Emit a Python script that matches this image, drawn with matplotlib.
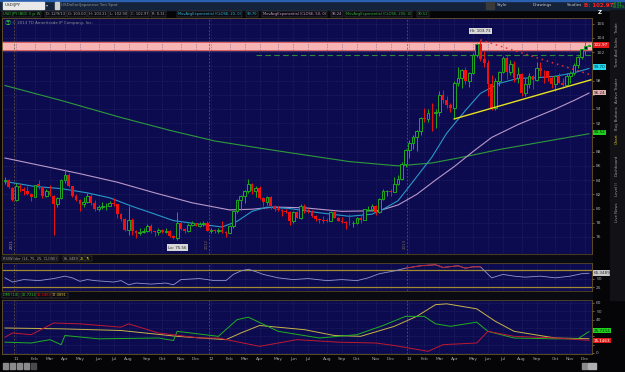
import matplotlib
matplotlib.use('Agg')
import matplotlib.pyplot as plt
from matplotlib.patches import Rectangle
import numpy as np
import pandas as pd

W, H = 625, 372

# weekly USD/JPY candles, Dec 13 2010 .. Dec 9 2013
opens = [83.9, 84.0, 82.9, 81.2, 83.2, 82.8, 82.5, 82.1, 81.6, 83.4,
         83.0, 81.8, 82.4, 81.8, 80.6, 81.5, 84.0, 84.7, 83.1, 81.8,
         81.2, 80.6, 80.9, 81.7, 80.8, 80.0, 80.2, 80.3, 80.4, 80.8,
         80.6, 79.2, 78.5, 77.0, 78.4, 76.8, 76.6, 76.7, 76.8, 77.6,
         76.8, 76.7, 77.0, 76.7, 76.9, 76.2, 75.8, 78.0, 77.1, 76.9,
         77.7, 77.9, 77.6, 77.8, 78.0, 76.9, 77.0, 76.8, 77.0, 76.7,
         76.6, 77.5, 79.6, 81.2, 81.8, 82.4, 83.4, 82.4, 82.9, 81.5,
         80.9, 81.6, 80.3, 79.9, 79.8, 79.6, 79.5, 78.3, 79.5, 78.7,
         80.4, 79.8, 79.7, 78.9, 78.5, 78.4, 78.4, 78.3, 79.5, 78.7,
         78.3, 78.1, 78.0, 77.9, 77.9, 78.7, 78.4, 79.9, 79.9, 80.4,
         79.5, 81.3, 82.4, 82.5, 82.3, 83.5, 84.2, 86.2, 88.2, 89.2,
         90.1, 90.9, 92.7, 92.6, 93.5, 93.4, 93.6, 96.0, 95.3, 94.5,
         94.2, 97.6, 98.4, 99.5, 98.0, 99.0, 101.6, 103.2, 101.0, 100.5,
         97.5, 94.1, 97.9, 99.2, 101.2, 99.2, 100.3, 98.3, 98.9, 96.2,
         97.5, 98.7, 98.1, 99.7, 99.4, 99.3, 98.3, 97.5, 98.6, 97.7,
         97.4, 98.7, 99.1, 100.2, 101.3, 102.4, 102.93]
highs = [84.5, 84.1, 83.0, 83.6, 83.5, 83.0, 83.2, 82.2, 83.3, 84.0,
         83.0, 82.8, 83.3, 81.9, 81.6, 84.2, 85.5, 85.0, 83.2, 82.0,
         81.3, 81.6, 82.2, 82.2, 81.2, 80.5, 80.9, 80.8, 81.0, 81.5,
         80.7, 79.4, 78.6, 80.3, 78.6, 77.0, 77.3, 77.2, 77.8, 77.8,
         76.9, 77.2, 77.1, 77.3, 77.0, 76.3, 79.5, 78.2, 77.2, 78.0,
         78.2, 78.0, 78.1, 78.2, 78.2, 77.2, 77.1, 77.3, 78.3, 76.8,
         77.7, 79.8, 81.3, 81.9, 82.6, 84.2, 83.6, 83.2, 83.2, 81.6,
         81.8, 81.8, 80.5, 80.3, 80.0, 79.9, 79.7, 79.7, 79.6, 80.6,
         80.6, 80.1, 79.8, 79.1, 78.7, 78.9, 78.6, 79.6, 79.6, 78.8,
         78.8, 78.2, 79.2, 78.2, 78.8, 78.9, 80.0, 80.4, 80.7, 80.5,
         81.5, 82.8, 82.6, 82.8, 84.4, 84.7, 86.6, 88.4, 89.6, 90.3,
         91.0, 92.9, 94.1, 94.0, 94.8, 94.0, 96.6, 96.7, 95.8, 94.9,
         97.9, 99.9, 99.6, 99.9, 99.2, 101.9, 103.3, 103.73, 102.1, 100.9,
         98.8, 98.3, 99.4, 101.5, 101.5, 100.9, 100.8, 99.9, 99.1, 98.4,
         99.1, 98.8, 100.6, 100.6, 99.5, 99.4, 98.6, 98.7, 99.0, 98.4,
         99.0, 99.3, 100.4, 101.4, 102.5, 103.4, 103.21]
lows = [83.4, 82.9, 81.1, 81.1, 82.3, 81.9, 81.9, 81.0, 81.6, 82.8,
        81.5, 81.6, 81.7, 76.3, 80.2, 81.4, 83.6, 83.0, 81.6, 81.1,
        79.6, 80.2, 80.8, 80.5, 79.7, 79.7, 80.0, 79.8, 80.3, 80.4,
        78.6, 78.2, 76.8, 76.3, 76.3, 75.9, 76.3, 76.5, 76.7, 76.6,
        76.1, 76.3, 76.5, 76.6, 76.0, 75.7, 75.56, 77.0, 76.6, 76.7,
        77.5, 77.5, 77.4, 77.6, 76.8, 76.6, 76.6, 76.6, 76.6, 76.0,
        76.5, 77.3, 79.4, 79.8, 80.8, 82.2, 82.0, 81.6, 81.3, 80.3,
        80.5, 80.0, 79.7, 79.6, 79.0, 79.3, 77.7, 78.0, 78.6, 78.5,
        79.3, 79.4, 78.8, 78.3, 77.9, 78.0, 78.1, 78.2, 78.6, 78.2,
        78.0, 77.1, 77.7, 77.4, 77.8, 78.0, 78.4, 79.7, 79.6, 79.1,
        79.4, 81.2, 81.7, 81.7, 82.3, 83.3, 84.0, 85.8, 87.1, 88.4,
        88.1, 90.4, 92.2, 92.1, 90.9, 91.3, 93.0, 94.9, 94.2, 93.6,
        92.6, 97.2, 96.9, 97.5, 97.1, 98.9, 101.3, 100.7, 99.9, 95.8,
        93.8, 93.9, 97.2, 99.1, 98.2, 98.8, 97.8, 97.6, 95.8, 95.8,
        97.0, 96.8, 98.0, 98.7, 97.7, 97.9, 96.9, 96.6, 97.6, 96.9,
        97.2, 97.6, 98.8, 99.7, 101.0, 101.6, 102.90]
closes = [84.0, 83.0, 81.2, 83.2, 82.9, 82.5, 82.1, 81.6, 83.3, 83.1,
          81.7, 82.4, 81.9, 80.6, 81.5, 84.0, 84.7, 83.1, 81.8, 81.2,
          80.6, 80.9, 81.7, 80.8, 80.0, 80.2, 80.3, 80.4, 80.8, 80.6,
          79.2, 78.5, 77.0, 78.4, 76.8, 76.6, 76.7, 76.8, 77.6, 76.8,
          76.7, 77.0, 76.7, 76.9, 76.2, 75.8, 78.0, 77.1, 76.9, 77.7,
          77.9, 77.6, 77.8, 78.0, 76.9, 77.0, 76.8, 77.0, 76.7, 76.6,
          77.5, 79.6, 81.2, 81.8, 82.4, 83.4, 82.4, 82.9, 81.5, 80.9,
          81.6, 80.3, 79.9, 79.8, 79.6, 79.5, 78.3, 79.5, 78.7, 80.4,
          79.8, 79.7, 78.9, 78.5, 78.4, 78.3, 78.3, 79.5, 78.7, 78.3,
          78.1, 78.0, 77.9, 77.95, 78.7, 78.4, 79.9, 79.9, 80.4, 79.5,
          81.3, 82.4, 82.5, 82.3, 83.5, 84.2, 86.2, 88.2, 89.2, 90.1,
          90.9, 92.7, 92.6, 93.5, 93.4, 93.6, 96.0, 95.3, 94.5, 94.2,
          97.6, 98.4, 99.5, 98.0, 99.0, 101.6, 103.2, 101.0, 100.5, 97.5,
          94.1, 97.9, 99.2, 101.2, 99.2, 100.3, 98.3, 98.9, 96.2, 97.5,
          98.7, 98.1, 99.7, 99.4, 99.3, 98.3, 97.5, 98.6, 97.7, 97.4,
          98.7, 99.1, 100.2, 101.3, 102.4, 102.9, 102.97]

# moving averages (week index, value)
ema20_idx = [0, 8, 15, 22, 28, 34, 39, 45, 52, 58, 62, 66, 70, 76, 84, 92, 98, 101,
             105, 109, 114, 118, 123, 127, 132, 137, 142, 147, 152, 156]
ema20_val = [83.8, 83.1, 82.8, 82.2, 81.5, 80.3, 79.4, 78.3, 77.8, 77.4, 78.2, 79.6,
             80.2, 80.0, 79.4, 78.9, 79.2, 79.9, 81.1, 83.8, 87.2, 90.6, 93.8, 96.2,
             97.6, 98.3, 98.4, 98.6, 99.1, 99.7]
ema50_idx = [0, 10, 20, 30, 40, 50, 60, 66, 72, 80, 90, 100, 105, 110, 115, 120,
             125, 130, 137, 142, 147, 152, 156]
ema50_val = [87.1, 86.0, 84.9, 83.7, 82.2, 80.8, 79.8, 79.9, 80.2, 80.1, 79.6, 79.7,
             80.5, 82.0, 84.0, 85.9, 88.0, 90.0, 91.8, 92.9, 94.0, 95.2, 96.24]
ema200_idx = [0, 15, 31, 44, 56, 68, 78, 92, 105, 114, 123, 132, 145, 156]
ema200_val = [97.3, 95.2, 92.8, 91.0, 89.5, 88.5, 87.7, 86.6, 86.0, 86.4, 87.3, 88.3,
              89.5, 90.52]

# drawings
support_idx = [120, 156.5]
support_val = [92.6, 98.1]
resist_idx = [127, 156.5]
resist_val = [103.73, 98.8]
zone_lo, zone_hi = 102.3, 103.4
level_idx = [67, 156.8]
level_val = 101.6

# RSI Wilder (14)
rsi_idx = [0, 2, 5, 9, 13, 16, 18, 20, 22, 24, 29, 31, 33, 35, 39, 43, 45, 47, 52, 56,
           59, 61, 63, 65, 67, 69, 73, 77, 81, 86, 90, 94, 97, 100, 104, 107, 111, 115,
           117, 121, 123, 125, 127, 130, 133, 136, 139, 143, 147, 151, 154, 156]
rsi_val = [52, 40, 47, 44, 50, 57, 52, 42, 47, 44, 40, 44, 32, 37, 34, 37, 32, 47, 50, 44,
           44, 62, 72, 77, 70, 62, 52, 47, 50, 44, 47, 44, 52, 64, 72, 80, 87, 90, 82, 87,
           80, 84, 84, 52, 62, 57, 54, 57, 52, 57, 64, 65.35]

# DMI (14)
adx_idx = [0, 15, 31, 46, 59, 63, 68, 80, 88, 95, 104, 110, 115, 118, 126, 131, 136, 147, 156]
adx_val = [30, 29, 27, 20, 16, 24, 33, 28, 21, 20, 32, 44, 58, 59, 53, 38, 26, 18, 17.09]
dip_idx = [0, 7, 12, 15, 16, 25, 41, 45, 46, 57, 62, 65, 73, 84, 94, 101, 107, 112, 115,
           119, 126, 129, 136, 147, 153, 156]
dip_val = [13, 12, 16, 10, 21, 17, 18, 15, 26, 20, 40, 43, 26, 18, 22, 33, 44, 44, 35,
           32, 37, 26, 18, 17, 17, 25.72]
dim_idx = [0, 2, 7, 13, 20, 31, 33, 41, 52, 57, 68, 78, 89, 99, 104, 113, 117, 126, 129,
           136, 147, 156]
dim_val = [19, 24, 22, 36, 35, 31, 35, 24, 18, 18, 8, 16, 13, 12, 9, 2, 10, 12, 26, 20,
           18, 15.15]

BG = '#0c0b50'
GRID = '#3a3a78'
FRAME = '#6a5626'
GREEN = '#1ea81e'
RED = '#f01010'
TXT = '#a8a8a8'

o, h, l, c = map(np.array, (opens, highs, lows, closes))
n = len(c)
idx = np.arange(n)
weeks = pd.date_range('2010-12-13', periods=n, freq='W-MON')
month_pos = [i for i in range(1, n) if weeks[i].month != weeks[i - 1].month]
month_lab = [weeks[i].strftime('%y') if weeks[i].month == 1 else weeks[i].strftime('%b')
             for i in month_pos]
year_pos = [i for i in month_pos if weeks[i].month == 1]
XL = (-0.8, 156.8)


def box(x0, y0, x1, y1):
    return [x0 / W, 1 - y1 / H, (x1 - x0) / W, (y1 - y0) / H]


def ftext(x, y, s, **kw):
    kw.setdefault('fontsize', 3.2)
    kw.setdefault('va', 'center')
    fig.text(x / W, 1 - y / H, s, **kw)


def frect(x0, y0, x1, y1, **kw):
    fig.patches.append(Rectangle((x0 / W, 1 - y1 / H), (x1 - x0) / W, (y1 - y0) / H,
                                 transform=fig.transFigure, **kw))


def style(ax, ylim, yt, hide=()):
    ax.set_facecolor(BG)
    ax.set_xlim(*XL)
    ax.set_ylim(*ylim)
    ax.yaxis.tick_right()
    ax.set_yticks(yt)
    ax.set_yticklabels(['' if v in hide else str(v) for v in yt])
    ax.set_xticks(month_pos)
    ax.tick_params(axis='y', colors=TXT, labelsize=3.2, length=1.5, pad=1.5, width=0.4)
    ax.tick_params(axis='x', length=0, labelbottom=False)
    for s in ax.spines.values():
        s.set_color(FRAME)
        s.set_linewidth(0.6)
    ax.grid(True, color=GRID, lw=0.4, ls=(0, (1, 2)))
    for yp in year_pos:
        ax.axvline(yp - 0.5, color='#6a5a40', lw=0.5, ls=(0, (3, 2)))


fig = plt.figure(figsize=(W / 100, H / 100), dpi=100, facecolor='#050508')

# title bar
frect(0, 0, W, 10, color='#15233a')
frect(0, 0, W, 1.2, color='#2a60b0')
frect(3, 2, 44, 8.5, color='#e8e8e8')
ftext(5, 5.3, 'USD/JPY', color='#202020', fontsize=3)
ftext(46, 5.3, '\u25be', color='#c0c0c0', fontsize=3)
frect(55, 2, 59, 8.5, color='#d0d0d0')
ftext(61, 5.3, 'USDollar/Japanese Yen Spot', color='#909090', fontsize=3)
for xx, s in [(497, 'Style'), (533, 'Drawings'), (567, 'Studies')]:
    ftext(xx, 5.3, s, color='#c8c8c8', fontsize=3)
frect(486, 2, 494, 8.5, color='#3a3a3a')
ftext(584, 5.3, 'B: 102.97', color='#ff2020', fontsize=4, fontweight='bold')
ftext(612, 3.7, '+0.07', color='#20d020', fontsize=2.4)
ftext(612, 7.0, '+0.07%', color='#20d020', fontsize=2.4)

# study header row
hdr = [(3, 'USD JPY (BID) 3 yr W', '#30c030'), (46, 'D: 12/9/13', TXT),
       (68, 'O: 103.00', TXT), (89, 'H: 103.21', TXT), (110, 'L: 102.90', TXT),
       (131, 'C: 102.97', TXT), (152, 'R: 0.31', TXT),
       (178, 'MovAvgExponential (CLOSE, 20, 0)', '#30b8d8'), (247, '99.70', '#30b8d8'),
       (263, 'MovAvgExponential (CLOSE, 50, 0)', '#c8a0c8'), (332, '96.24', '#c8a0c8'),
       (346, 'MovAvgExponential (CLOSE, 200, 0)', '#30b030'), (418, '90.52', '#30b030')]
for xx, s, col in hdr:
    ftext(xx, 14.2, s, color=col, fontsize=2.6,
          bbox=dict(fc='#0a0a12', ec='#505050', lw=0.3, pad=0.7))

# right side tabs
frect(610, 10, W, 300, color='#121216')
tabs = [(28, 'Trade'), (52, 'Time And Sales'), (90, 'Active Trader'), (118, 'Buy Buttons'),
        (139, 'Chart'), (165, 'Dashboard'), (189, 'Level II'), (212, 'Live News')]
for yy, s in tabs:
    ftext(617, yy, s, color='#e0c020' if s == 'Chart' else '#a0a0a0', fontsize=2.8,
          rotation=90, ha='center')

# ---- price panel
ax = fig.add_axes(box(2, 18, 592, 254))
style(ax, (73.6, 106.8), list(range(76, 107, 2)), hide=(90, 96, 100))
ax.axhspan(zone_lo, zone_hi, color='#f6b4b4', zorder=1.5)
ax.axhline(zone_lo, color='#d04040', lw=0.5, zorder=1.6)
ax.axhline(zone_hi, color='#d04040', lw=0.5, zorder=1.6)
ax.hlines(level_val, *level_idx, color='#2a8a3a', lw=0.8, ls=(0, (5, 3)), zorder=1.7)
ax.plot(ema200_idx, ema200_val, color='#2e9a3a', lw=0.8, zorder=2)
ax.plot(ema50_idx, ema50_val, color='#b898c8', lw=0.8, zorder=2)
ax.plot(ema20_idx, ema20_val, color='#2898c8', lw=0.8, zorder=2)
up = c >= o
col = np.where(up, GREEN, RED)
ax.vlines(idx, l, h, colors=col, lw=0.7, zorder=3)
ax.bar(idx[up], np.maximum(c - o, 0.08)[up], bottom=o[up], width=0.72,
       facecolor=BG, edgecolor=GREEN, lw=0.7, zorder=4)
ax.bar(idx[~up], (o - c)[~up], bottom=c[~up], width=0.72, color=RED, lw=0, zorder=4)
ax.plot(support_idx, support_val, color='#e8e020', lw=1.0, zorder=5)
ax.plot(resist_idx, resist_val, color='#e83030', lw=1.1, ls=(0, (1, 2.5)), zorder=5)
ax.text(127, 105.0, 'Hi: 103.73', fontsize=2.9, color='#202020', ha='center', va='center',
        bbox=dict(fc='#d8d8d8', ec='none', pad=0.8), zorder=6)
ax.text(46, 74.5, 'Lo: 75.56', fontsize=2.9, color='#202020', ha='center', va='center',
        bbox=dict(fc='#d8d8d8', ec='none', pad=0.8), zorder=6)
for yp in year_pos + [3]:
    ax.text(yp - 1.2, 74.3, str(weeks[yp].year), rotation=90, fontsize=2.9,
            color='#7a6a50', ha='center', va='bottom')
ax.text(0.004, 0.978, '\u24c9', transform=ax.transAxes, color='#30d030', fontsize=4.5,
        va='center', family=['Noto Sans CJK JP', 'DejaVu Sans'])
ax.text(0.017, 0.978, '\u00a9 2013 TD Ameritrade IP Company, Inc.', transform=ax.transAxes,
        color='#909090', fontsize=2.9, va='center')
ftext(598, 13, 'Z', color='white', fontsize=4, fontweight='bold')
tags = [(c[-1], '102.97', '#e01818', 'white'), (99.95, '99.70', '#20d8f0', '#003040'),
        (96.3, '96.24', '#e0b0b0', '#402020'), (90.7, '90.52', '#20d020', '#003000')]
for yv, s, fc, tc in tags:
    ax.text(1.003, (yv - 73.6) / (106.8 - 73.6), s, transform=ax.transAxes, fontsize=3,
            color=tc, va='center', ha='left', bbox=dict(fc=fc, ec='none', pad=0.6))

# ---- RSI panel
frect(2, 255, 592, 262, color='#0a0a12')
rh = [(3, 'RSIWilder (14, 75, 25, CLOSE)', TXT), (64, '65.3489', TXT),
      (80, '25', '#e0e020'), (86, '75', '#e0e020')]
for xx, s, cc in rh:
    ftext(xx, 258.5, s, color=cc, fontsize=2.6,
          bbox=dict(fc='#0a0a12', ec='#505050', lw=0.3, pad=0.7))
ar = fig.add_axes(box(2, 263, 592, 291))
style(ar, (14, 95), [25, 50, 75], hide=(75,))
ar.axhline(75, color='#a08a30', lw=0.9)
ar.axhline(25, color='#a08a30', lw=0.9)
rv = np.array(rsi_val, dtype=float)
ar.plot(rsi_idx, rv, color='#9098c8', lw=0.6)
ar.plot(rsi_idx, np.where(rv >= 75, rv, np.nan), color='#c02020', lw=0.7)
ar.text(1.003, (65.35 - 14) / 81, '65.3489', transform=ar.transAxes, fontsize=3,
        color='#303030', va='center', bbox=dict(fc='#c8c8c8', ec='none', pad=0.6))

# ---- DMI panel
frect(2, 292, 592, 299, color='#0a0a12')
dh = [(3, 'DMI (14)', '#30c030'), (22, '25.7214', '#30c030'), (37, '15.1463', RED),
      (52, '17.0891', '#d8c040')]
for xx, s, cc in dh:
    ftext(xx, 295.5, s, color=cc, fontsize=2.6,
          bbox=dict(fc='#0a0a12', ec='#505050', lw=0.3, pad=0.7))
ad = fig.add_axes(box(2, 300, 592, 354))
style(ad, (-1.2, 63.6), list(range(0, 61, 10)), hide=(10, 20, 30))
ad.plot(adx_idx, adx_val, color='#c8b446', lw=0.7)
ad.plot(dip_idx, dip_val, color='#20b020', lw=0.7)
ad.plot(dim_idx, dim_val, color='#c01830', lw=0.7)
for yv, s, fc, tc in [(27.0, '25.7214', '#20d020', '#003000'),
                      (15.0, '15.1463', '#e01818', 'white')]:
    ad.text(1.003, (yv + 1.2) / 64.8, s, transform=ad.transAxes, fontsize=3, color=tc,
            va='center', bbox=dict(fc=fc, ec='none', pad=0.6))
ad.tick_params(axis='x', labelbottom=True, labelsize=3.2, labelcolor=TXT, pad=2.5)
ad.set_xticklabels(month_lab)

# bottom toolbar
for i, xx in enumerate([3, 10, 17, 24, 31]):
    frect(xx, 363, xx + 5, 369, color='#8a8a8a' if i < 4 else '#4a4a4a')
frect(582, 363, 587, 369, color='#8a8a8a')
frect(588, 363, 596, 369, color='#b0b0b0')

fig.savefig('out.png', dpi=100, facecolor=fig.get_facecolor())
